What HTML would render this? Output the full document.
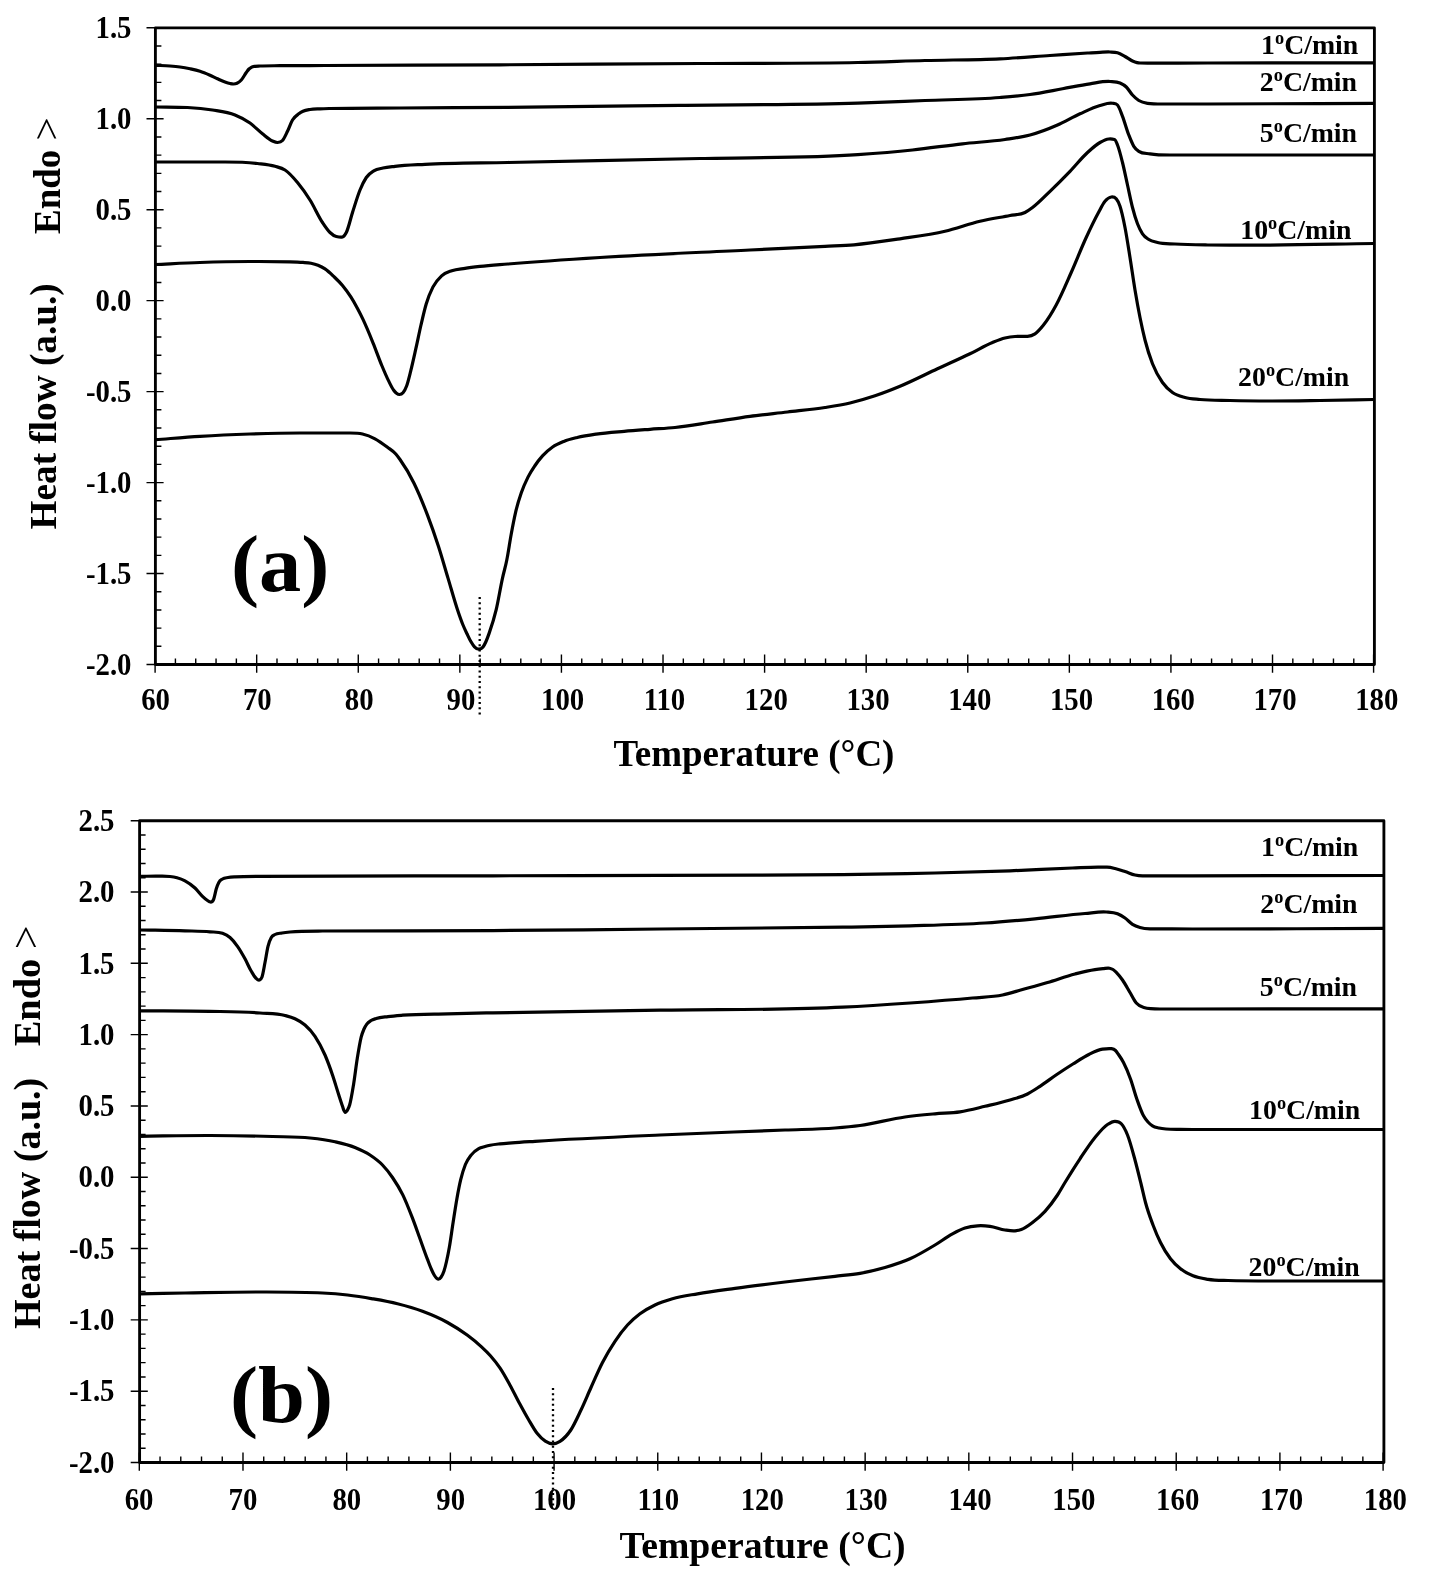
<!DOCTYPE html>
<html><head><meta charset="utf-8"><title>DSC heating curves</title>
<style>
html,body{margin:0;padding:0;background:#fff;}
svg{display:block;will-change:transform;}
text{font-family:"Liberation Serif",serif;font-weight:bold;fill:#000;}
</style></head>
<body>
<svg width="1431" height="1581" viewBox="0 0 1431 1581">
<rect width="1431" height="1581" fill="#fff"/>
<path d="M155.1 654.6V672.8M175.42 658.5V664.5M195.73 658.5V664.5M216.05 658.5V664.5M236.37 658.5V664.5M256.68 654.6V672.8M277 658.5V664.5M297.32 658.5V664.5M317.63 658.5V664.5M337.95 658.5V664.5M358.27 654.6V672.8M378.58 658.5V664.5M398.9 658.5V664.5M419.22 658.5V664.5M439.53 658.5V664.5M459.85 654.6V672.8M480.17 658.5V664.5M500.48 658.5V664.5M520.8 658.5V664.5M541.12 658.5V664.5M561.43 654.6V672.8M581.75 658.5V664.5M602.07 658.5V664.5M622.38 658.5V664.5M642.7 658.5V664.5M663.02 654.6V672.8M683.33 658.5V664.5M703.65 658.5V664.5M723.97 658.5V664.5M744.28 658.5V664.5M764.6 654.6V672.8M784.92 658.5V664.5M805.23 658.5V664.5M825.55 658.5V664.5M845.87 658.5V664.5M866.18 654.6V672.8M886.5 658.5V664.5M906.82 658.5V664.5M927.13 658.5V664.5M947.45 658.5V664.5M967.77 654.6V672.8M988.08 658.5V664.5M1008.4 658.5V664.5M1028.72 658.5V664.5M1049.03 658.5V664.5M1069.35 654.6V672.8M1089.67 658.5V664.5M1109.98 658.5V664.5M1130.3 658.5V664.5M1150.62 658.5V664.5M1170.93 654.6V672.8M1191.25 658.5V664.5M1211.57 658.5V664.5M1231.88 658.5V664.5M1252.2 658.5V664.5M1272.52 654.6V672.8M1292.83 658.5V664.5M1313.15 658.5V664.5M1333.47 658.5V664.5M1353.78 658.5V664.5M1373.6 654.6V672.8M146.5 664.5H163.6M155.4 646.31H161.4M155.4 628.12H161.4M155.4 609.93H161.4M155.4 591.73H161.4M146.5 573.54H163.6M155.4 555.35H161.4M155.4 537.16H161.4M155.4 518.97H161.4M155.4 500.78H161.4M146.5 482.59H163.6M155.4 464.39H161.4M155.4 446.2H161.4M155.4 428.01H161.4M155.4 409.82H161.4M146.5 391.63H163.6M155.4 373.44H161.4M155.4 355.25H161.4M155.4 337.05H161.4M155.4 318.86H161.4M146.5 300.67H163.6M155.4 282.48H161.4M155.4 264.29H161.4M155.4 246.1H161.4M155.4 227.91H161.4M146.5 209.71H163.6M155.4 191.52H161.4M155.4 173.33H161.4M155.4 155.14H161.4M155.4 136.95H161.4M146.5 118.76H163.6M155.4 100.57H161.4M155.4 82.37H161.4M155.4 64.18H161.4M155.4 45.99H161.4M146.5 27.8H163.6" stroke="#000" stroke-width="1.4" fill="none"/>
<rect x="155.4" y="27.8" width="1219" height="636.7" fill="none" stroke="#000" stroke-width="2.85" stroke-linejoin="round"/>
<text transform="translate(131.5 674.7) scale(1 1.06)" text-anchor="end" font-size="28.8">-2.0</text>
<text transform="translate(131.5 583.74) scale(1 1.06)" text-anchor="end" font-size="28.8">-1.5</text>
<text transform="translate(131.5 492.79) scale(1 1.06)" text-anchor="end" font-size="28.8">-1.0</text>
<text transform="translate(131.5 401.83) scale(1 1.06)" text-anchor="end" font-size="28.8">-0.5</text>
<text transform="translate(131.5 310.87) scale(1 1.06)" text-anchor="end" font-size="28.8">0.0</text>
<text transform="translate(131.5 219.91) scale(1 1.06)" text-anchor="end" font-size="28.8">0.5</text>
<text transform="translate(131.5 128.96) scale(1 1.06)" text-anchor="end" font-size="28.8">1.0</text>
<text transform="translate(131.5 38) scale(1 1.06)" text-anchor="end" font-size="28.8">1.5</text>
<text transform="translate(155.6 710) scale(1 1.06)" text-anchor="middle" font-size="28.8">60</text>
<text transform="translate(257.37 710) scale(1 1.06)" text-anchor="middle" font-size="28.8">70</text>
<text transform="translate(359.13 710) scale(1 1.06)" text-anchor="middle" font-size="28.8">80</text>
<text transform="translate(460.9 710) scale(1 1.06)" text-anchor="middle" font-size="28.8">90</text>
<text transform="translate(562.67 710) scale(1 1.06)" text-anchor="middle" font-size="28.8">100</text>
<text transform="translate(664.43 710) scale(1 1.06)" text-anchor="middle" font-size="28.8">110</text>
<text transform="translate(766.2 710) scale(1 1.06)" text-anchor="middle" font-size="28.8">120</text>
<text transform="translate(867.97 710) scale(1 1.06)" text-anchor="middle" font-size="28.8">130</text>
<text transform="translate(969.73 710) scale(1 1.06)" text-anchor="middle" font-size="28.8">140</text>
<text transform="translate(1071.5 710) scale(1 1.06)" text-anchor="middle" font-size="28.8">150</text>
<text transform="translate(1173.27 710) scale(1 1.06)" text-anchor="middle" font-size="28.8">160</text>
<text transform="translate(1275.03 710) scale(1 1.06)" text-anchor="middle" font-size="28.8">170</text>
<text transform="translate(1376.8 710) scale(1 1.06)" text-anchor="middle" font-size="28.8">180</text>
<path d="M139.3 1452.6V1470.8M160.04 1456.5V1462.5M180.78 1456.5V1462.5M201.51 1456.5V1462.5M222.25 1456.5V1462.5M242.99 1452.6V1470.8M263.73 1456.5V1462.5M284.47 1456.5V1462.5M305.21 1456.5V1462.5M325.94 1456.5V1462.5M346.68 1452.6V1470.8M367.42 1456.5V1462.5M388.16 1456.5V1462.5M408.9 1456.5V1462.5M429.64 1456.5V1462.5M450.38 1452.6V1470.8M471.11 1456.5V1462.5M491.85 1456.5V1462.5M512.59 1456.5V1462.5M533.33 1456.5V1462.5M554.07 1452.6V1470.8M574.81 1456.5V1462.5M595.54 1456.5V1462.5M616.28 1456.5V1462.5M637.02 1456.5V1462.5M657.76 1452.6V1470.8M678.5 1456.5V1462.5M699.24 1456.5V1462.5M719.97 1456.5V1462.5M740.71 1456.5V1462.5M761.45 1452.6V1470.8M782.19 1456.5V1462.5M802.93 1456.5V1462.5M823.67 1456.5V1462.5M844.4 1456.5V1462.5M865.14 1452.6V1470.8M885.88 1456.5V1462.5M906.62 1456.5V1462.5M927.36 1456.5V1462.5M948.1 1456.5V1462.5M968.83 1452.6V1470.8M989.57 1456.5V1462.5M1010.31 1456.5V1462.5M1031.05 1456.5V1462.5M1051.79 1456.5V1462.5M1072.53 1452.6V1470.8M1093.26 1456.5V1462.5M1114 1456.5V1462.5M1134.74 1456.5V1462.5M1155.48 1456.5V1462.5M1176.22 1452.6V1470.8M1196.96 1456.5V1462.5M1217.69 1456.5V1462.5M1238.43 1456.5V1462.5M1259.17 1456.5V1462.5M1279.91 1452.6V1470.8M1300.65 1456.5V1462.5M1321.39 1456.5V1462.5M1342.12 1456.5V1462.5M1362.86 1456.5V1462.5M1383.1 1452.6V1470.8M130.7 1462.5H147.8M139.6 1448.24H145.6M139.6 1433.98H145.6M139.6 1419.71H145.6M139.6 1405.45H145.6M130.7 1391.19H147.8M139.6 1376.93H145.6M139.6 1362.66H145.6M139.6 1348.4H145.6M139.6 1334.14H145.6M130.7 1319.88H147.8M139.6 1305.62H145.6M139.6 1291.35H145.6M139.6 1277.09H145.6M139.6 1262.83H145.6M130.7 1248.57H147.8M139.6 1234.3H145.6M139.6 1220.04H145.6M139.6 1205.78H145.6M139.6 1191.52H145.6M130.7 1177.26H147.8M139.6 1162.99H145.6M139.6 1148.73H145.6M139.6 1134.47H145.6M139.6 1120.21H145.6M130.7 1105.94H147.8M139.6 1091.68H145.6M139.6 1077.42H145.6M139.6 1063.16H145.6M139.6 1048.9H145.6M130.7 1034.63H147.8M139.6 1020.37H145.6M139.6 1006.11H145.6M139.6 991.85H145.6M139.6 977.58H145.6M130.7 963.32H147.8M139.6 949.06H145.6M139.6 934.8H145.6M139.6 920.54H145.6M139.6 906.27H145.6M130.7 892.01H147.8M139.6 877.75H145.6M139.6 863.49H145.6M139.6 849.22H145.6M139.6 834.96H145.6M130.7 820.7H147.8" stroke="#000" stroke-width="1.4" fill="none"/>
<rect x="139.6" y="820.7" width="1244.3" height="641.8" fill="none" stroke="#000" stroke-width="2.85" stroke-linejoin="round"/>
<text transform="translate(114.5 1472.7) scale(1 1.06)" text-anchor="end" font-size="28.8">-2.0</text>
<text transform="translate(114.5 1401.39) scale(1 1.06)" text-anchor="end" font-size="28.8">-1.5</text>
<text transform="translate(114.5 1330.08) scale(1 1.06)" text-anchor="end" font-size="28.8">-1.0</text>
<text transform="translate(114.5 1258.77) scale(1 1.06)" text-anchor="end" font-size="28.8">-0.5</text>
<text transform="translate(114.5 1187.46) scale(1 1.06)" text-anchor="end" font-size="28.8">0.0</text>
<text transform="translate(114.5 1116.14) scale(1 1.06)" text-anchor="end" font-size="28.8">0.5</text>
<text transform="translate(114.5 1044.83) scale(1 1.06)" text-anchor="end" font-size="28.8">1.0</text>
<text transform="translate(114.5 973.52) scale(1 1.06)" text-anchor="end" font-size="28.8">1.5</text>
<text transform="translate(114.5 902.21) scale(1 1.06)" text-anchor="end" font-size="28.8">2.0</text>
<text transform="translate(114.5 830.9) scale(1 1.06)" text-anchor="end" font-size="28.8">2.5</text>
<text transform="translate(139.1 1510) scale(1 1.06)" text-anchor="middle" font-size="28.8">60</text>
<text transform="translate(242.96 1510) scale(1 1.06)" text-anchor="middle" font-size="28.8">70</text>
<text transform="translate(346.82 1510) scale(1 1.06)" text-anchor="middle" font-size="28.8">80</text>
<text transform="translate(450.68 1510) scale(1 1.06)" text-anchor="middle" font-size="28.8">90</text>
<text transform="translate(554.53 1510) scale(1 1.06)" text-anchor="middle" font-size="28.8">100</text>
<text transform="translate(658.39 1510) scale(1 1.06)" text-anchor="middle" font-size="28.8">110</text>
<text transform="translate(762.25 1510) scale(1 1.06)" text-anchor="middle" font-size="28.8">120</text>
<text transform="translate(866.11 1510) scale(1 1.06)" text-anchor="middle" font-size="28.8">130</text>
<text transform="translate(969.97 1510) scale(1 1.06)" text-anchor="middle" font-size="28.8">140</text>
<text transform="translate(1073.83 1510) scale(1 1.06)" text-anchor="middle" font-size="28.8">150</text>
<text transform="translate(1177.68 1510) scale(1 1.06)" text-anchor="middle" font-size="28.8">160</text>
<text transform="translate(1281.54 1510) scale(1 1.06)" text-anchor="middle" font-size="28.8">170</text>
<text transform="translate(1385.4 1510) scale(1 1.06)" text-anchor="middle" font-size="28.8">180</text>
<path d="M155.6 65.3C160.4 65.53 165.2 65.62 170 66C173.33 66.26 176.67 66.53 180 67C183.33 67.47 186.67 68.08 190 68.8C193.33 69.52 196.67 70.22 200 71.3C203.33 72.38 206.67 73.84 210 75.3C212.5 76.4 215 77.68 217.5 78.8C220 79.92 222.5 81.12 225 82C226.67 82.58 228.33 83.15 230 83.5C231.17 83.74 232.33 84.03 233.5 84C234.67 83.97 235.83 83.83 237 83.3C238.43 82.65 239.87 81.59 241.3 80C242.97 78.16 244.63 74.78 246.3 72.5C247.2 71.27 248.1 69.9 249 69C249.77 68.24 250.53 67.73 251.3 67.3C252.53 66.61 253.77 66.52 255 66.3C256.67 66 258.33 66.08 260 66C266.67 65.7 273.33 65.78 280 65.7C295 65.52 310 65.57 325 65.5C383.33 65.25 441.67 65.1 500 64.8C566.67 64.46 633.33 63.93 700 63.5C752.6 63.16 805.2 63.5 857.8 62.5C880.2 62.07 902.6 61.09 925 60.5C950 59.84 975 60.02 1000 58.8C1016.67 57.99 1033.33 56.61 1050 55.5C1062.5 54.67 1075 53.73 1087.5 53C1091.67 52.76 1095.83 52.47 1100 52.3C1103.33 52.16 1106.67 51.84 1110 52C1112.5 52.12 1115 52.05 1117.5 52.8C1120 53.55 1122.5 55.13 1125 56.5C1127.5 57.87 1130 59.88 1132.5 61C1134 61.67 1135.5 62.27 1137 62.6C1138 62.82 1139 62.97 1140 63C1143.33 63.1 1146.67 63.08 1150 63.1C1169.27 63.2 1188.53 63.03 1207.8 63C1263.2 62.91 1318.6 62.87 1374 62.8" fill="none" stroke="#000" stroke-width="3.2" stroke-linejoin="round"/>
<path d="M155.6 107C166.23 107.17 176.87 107 187.5 107.5C195.83 107.89 204.17 108.63 212.5 110C220 111.23 227.5 111.93 235 115C240 117.04 245 119.43 250 123C254.17 125.97 258.33 130.53 262.5 133.8C265.83 136.41 269.17 139.53 272.5 141C274.17 141.73 275.83 142.58 277.5 142.5C279.17 142.42 280.83 142.37 282.5 140.5C284.17 138.63 285.83 134.72 287.5 131.3C289.17 127.88 290.83 122.83 292.5 120C294.6 116.44 296.7 115.38 298.8 113.8C300.2 112.75 301.6 111.96 303 111.3C305.33 110.21 307.67 109.92 310 109.5C313.33 108.9 316.67 108.97 320 108.8C323.33 108.63 326.67 108.57 330 108.5C353.33 108 376.67 108.16 400 108C435.93 107.75 471.87 107.6 507.8 107.3C565.2 106.81 622.6 105.99 680 105.3C739.27 104.59 798.53 104.97 857.8 103.1C880.2 102.4 902.6 101.38 925 100.5C950 99.52 975 99.57 1000 97.5C1010 96.67 1020 95.86 1030 94.5C1040.83 93.02 1051.67 90.74 1062.5 88.8C1071.67 87.16 1080.83 85.11 1090 83.8C1096.67 82.85 1103.33 81.09 1110 81.5C1113.33 81.71 1116.67 81.51 1120 83C1122.1 83.94 1124.2 84.97 1126.3 87C1128.37 88.99 1130.43 92.76 1132.5 95C1134.6 97.28 1136.7 99.15 1138.8 100.5C1141.7 102.36 1144.6 102.89 1147.5 103.3C1152.5 104 1157.5 104 1162.5 104C1177.6 104 1192.7 104 1207.8 104C1263.2 104 1318.6 103.53 1374 103.3" fill="none" stroke="#000" stroke-width="3.2" stroke-linejoin="round"/>
<path d="M155.6 162C178.73 162 201.87 162 225 162C235.83 162 246.67 162.2 257.5 163.5C263.33 164.2 269.17 164.59 275 166.3C278.33 167.28 281.67 167.83 285 170C289.17 172.71 293.33 177.5 297.5 182.5C301.67 187.5 305.83 193.33 310 200C314.17 206.67 318.33 216.22 322.5 222.5C325 226.27 327.5 230.12 330 232.5C332.1 234.5 334.2 235.99 336.3 236.5C338.37 237 340.43 237.5 342.5 237C343.77 236.69 345.03 234.98 346.3 232.5C348.37 228.45 350.43 218.96 352.5 212.5C355 204.69 357.5 196.12 360 190C362.1 184.86 364.2 180.62 366.3 177.5C368.8 173.78 371.3 172.37 373.8 170.8C376.87 168.87 379.93 168.72 383 168C387 167.06 391 166.78 395 166.3C405 165.1 415 164.85 425 164.3C452.6 162.79 480.2 163.09 507.8 162.5C571.87 161.13 635.93 159.97 700 158.5C752.6 157.29 805.2 158.22 857.8 154.6C876.03 153.35 894.27 151.91 912.5 150C929.17 148.25 945.83 145.66 962.5 143.8C976.67 142.22 990.83 141.64 1005 139.5C1013.33 138.24 1021.67 137.23 1030 135C1039.17 132.55 1048.33 129.01 1057.5 125C1065 121.72 1072.5 117.2 1080 113.8C1086.67 110.77 1093.33 107.29 1100 105.5C1104.17 104.38 1108.33 102.5 1112.5 103.3C1114.17 103.62 1115.83 103.3 1117.5 105C1119.17 106.7 1120.83 112.01 1122.5 116.3C1124.6 121.7 1126.7 129.6 1128.8 135C1130.47 139.29 1132.13 143.58 1133.8 146.3C1135.47 149.02 1137.13 150.18 1138.8 151.3C1142.53 153.8 1146.27 153.19 1150 153.8C1156.67 154.9 1163.33 155 1170 155C1182.6 155 1195.2 155 1207.8 155C1263.2 155 1318.6 155 1374 155" fill="none" stroke="#000" stroke-width="3.2" stroke-linejoin="round"/>
<path d="M155.6 264.5C170.4 263.83 185.2 262.99 200 262.5C216.67 261.95 233.33 261.58 250 261.5C263.33 261.44 276.67 261.5 290 261.8C294.33 261.9 298.67 262.02 303 262.4C305.67 262.63 308.33 262.75 311 263.3C313.33 263.78 315.67 264.37 318 265.3C320.33 266.23 322.67 267.34 325 268.9C328 270.91 331 273.84 334 276.7C336.83 279.4 339.67 282.08 342.5 285.5C345.33 288.92 348.17 292.72 351 297.2C353.17 300.63 355.33 304.45 357.5 308.5C359.33 311.93 361.17 315.53 363 319.4C366.4 326.57 369.8 334.89 373.2 343.3C376.07 350.39 378.93 358.61 381.8 365.5C384.07 370.95 386.33 376.31 388.6 380.9C390.3 384.34 392 388.01 393.7 390.3C394.63 391.56 395.57 392.6 396.5 393.3C397.5 394.05 398.5 394.51 399.5 394.5C400.67 394.49 401.83 394.17 403 392.8C404.2 391.39 405.4 389.25 406.6 386C408 382.21 409.4 376.17 410.8 370.6C412.5 363.84 414.2 356 415.9 348.4C417.63 340.65 419.37 331.96 421.1 324.5C422.8 317.18 424.5 309.74 426.2 304C428.47 296.35 430.73 291.37 433 286.9C435.87 281.24 438.73 278.46 441.6 275.8C445 272.64 448.4 271.93 451.8 270.7C456.2 269.11 460.6 268.99 465 268.3C470 267.52 475 266.96 480 266.4C489.27 265.36 498.53 264.77 507.8 264C538.53 261.46 569.27 259.43 600 257.5C650 254.37 700 252.48 750 250C775 248.76 800 247.58 825 246.3C834.67 245.81 844.33 245.59 854 244.8C869.33 243.54 884.67 241.08 900 238.8C915 236.57 930 234.8 945 231.3C956.67 228.57 968.33 224.05 980 221.3C990 218.94 1000 217.48 1010 215.5C1015 214.51 1020 215.06 1025 212.5C1027.5 211.22 1030 209.36 1032.5 207.5C1038.33 203.16 1044.17 196.9 1050 191.3C1056.67 184.9 1063.33 178.23 1070 171.3C1075.83 165.24 1081.67 157.83 1087.5 152.5C1091.67 148.69 1095.83 144.85 1100 142.5C1102.93 140.85 1105.87 139.3 1108.8 139C1110.7 138.8 1112.6 139 1114.5 139.5C1115.5 139.76 1116.5 142.54 1117.5 145C1119.17 149.1 1120.83 155.83 1122.5 162.5C1124.17 169.17 1125.83 177.5 1127.5 185C1129.17 192.5 1130.83 201.03 1132.5 207.5C1134.17 213.97 1135.83 219.42 1137.5 223.8C1139.17 228.18 1140.83 231.27 1142.5 233.8C1144.6 236.98 1146.7 238.09 1148.8 239.5C1151.7 241.44 1154.6 241.75 1157.5 242.5C1163.33 244 1169.17 243.61 1175 244C1185.93 244.73 1196.87 244.84 1207.8 245C1221.87 245.2 1235.93 245.2 1250 245.2C1291.33 245.2 1332.67 244.07 1374 243.5" fill="none" stroke="#000" stroke-width="3.2" stroke-linejoin="round"/>
<path d="M155.6 439.7C170.4 438.57 185.2 437.22 200 436.3C216.67 435.26 233.33 434.55 250 434C266.67 433.45 283.33 433 300 433C316.67 433 333.33 433 350 433C354.17 433 358.33 433.03 362.5 434C366.67 434.97 370.83 436.58 375 438.8C379.17 441.02 383.33 444.15 387.5 447.3C390.27 449.39 393.03 450.84 395.8 454C397.2 455.6 398.6 457.54 400 459.5C404.67 466.02 409.33 473.7 414 483.2C418.47 492.3 422.93 503.16 427.4 514.9C431.1 524.63 434.8 535.01 438.5 546.5C441.67 556.33 444.83 567.57 448 578.1C451.17 588.63 454.33 600.26 457.5 609.7C459.33 615.17 461.17 620.52 463 625C464.33 628.26 465.67 631 467 633.8C468.33 636.6 469.67 639.54 471 641.8C472.17 643.78 473.33 645.59 474.5 646.8C475.93 648.29 477.37 649.18 478.8 649.2C480.2 649.22 481.6 648.8 483 647C484 645.71 485 643.72 486 641.5C487.03 639.21 488.07 636.33 489.1 633.4C491.47 626.69 493.83 619.7 496.2 609.7C498.3 600.82 500.4 587.63 502.5 578.1C503.93 571.6 505.37 567.21 506.8 560C508.27 552.63 509.73 542.16 511.2 534.2C512.7 526.06 514.2 518.21 515.7 511.8C517.57 503.83 519.43 498.24 521.3 492.8C523.53 486.29 525.77 481.57 528 477.1C530.23 472.63 532.47 469.33 534.7 466C537.3 462.13 539.9 458.8 542.5 455.9C545.87 452.15 549.23 449.36 552.6 447C556.33 444.39 560.07 442.91 563.8 441.4C568.27 439.59 572.73 438.59 577.2 437.5C583.53 435.95 589.87 435.03 596.2 434.1C605.53 432.73 614.87 432.12 624.2 431.3C632.8 430.54 641.4 429.94 650 429.3C658.33 428.68 666.67 428.35 675 427.5C687.5 426.23 700 423.87 712.5 422C725 420.13 737.5 417.97 750 416.3C762.5 414.63 775 413.47 787.5 412C800 410.53 812.5 409.45 825 407.5C833.33 406.2 841.67 404.95 850 403C858.33 401.05 866.67 398.58 875 395.8C883.33 393.02 891.67 389.76 900 386.3C912.5 381.12 925 374.6 937.5 368.8C948.33 363.77 959.17 359.06 970 353.8C977.5 350.16 985 345.58 992.5 342.5C996.67 340.79 1000.83 339.01 1005 338C1008.33 337.19 1011.67 336.66 1015 336.5C1019.17 336.3 1023.33 336.5 1027.5 336.3C1030 336.18 1032.5 335.46 1035 333.8C1037.83 331.92 1040.67 328.55 1043.5 325C1047.73 319.7 1051.97 312.82 1056.2 305C1061.2 295.77 1066.2 283.75 1071.2 272.5C1076.2 261.25 1081.2 248.34 1086.2 237.5C1090.3 228.61 1094.4 220 1098.5 212.5C1100.67 208.53 1102.83 203.89 1105 201.3C1107.1 198.79 1109.2 197.21 1111.3 197C1112.97 196.83 1114.63 197 1116.3 198.8C1117.53 200.13 1118.77 202.64 1120 206.3C1121.67 211.25 1123.33 218.97 1125 227.5C1126.67 236.03 1128.33 247.08 1130 257.5C1131.67 267.92 1133.33 280 1135 290C1136.67 300 1138.33 309.17 1140 317.5C1141.67 325.83 1143.33 333.38 1145 340C1147.5 349.92 1150 357.26 1152.5 363.8C1155.83 372.52 1159.17 377.72 1162.5 382.5C1165.83 387.28 1169.17 390.06 1172.5 392.5C1176.67 395.56 1180.83 396.34 1185 397.5C1190 398.89 1195 399 1200 399.5C1210 400.5 1220 400.26 1230 400.5C1243.33 400.83 1256.67 400.97 1270 401C1286.67 401.04 1303.33 400.73 1320 400.5C1338 400.25 1356 399.83 1374 399.5" fill="none" stroke="#000" stroke-width="3.2" stroke-linejoin="round"/>
<path d="M139.8 876.3C146.53 876.27 153.27 876.1 160 876.2C163.33 876.25 166.67 876.2 170 876.5C172.33 876.71 174.67 877.06 177 877.7C179.67 878.43 182.33 879.37 185 880.8C188.33 882.58 191.67 884.86 195 888C197.5 890.35 200 893.93 202.5 896.3C204.17 897.88 205.83 899.39 207.5 900.5C208.17 900.95 208.83 901.45 209.5 901.7C210.1 901.92 210.7 902.2 211.3 902C211.77 901.85 212.23 901.67 212.7 901C213.07 900.47 213.43 899.76 213.8 898.8C214.63 896.62 215.47 891.52 216.3 888.8C217.13 886.08 217.97 884.07 218.8 882.5C220.03 880.17 221.27 879.83 222.5 879C224.33 877.76 226.17 877.86 228 877.5C230.33 877.04 232.67 876.94 235 876.8C243.33 876.3 251.67 876.35 260 876.3C337.6 875.8 415.2 876 492.8 875.8C548.53 875.65 604.27 875.47 660 875.3C720.93 875.11 781.87 875.3 842.8 874.7C873.53 874.4 904.27 873.75 935 873C960 872.39 985 871.74 1010 870.8C1030.83 870.01 1051.67 868.79 1072.5 868C1081 867.68 1089.5 867.11 1098 867.1C1101 867.1 1104 867.1 1107 867.2C1109.67 867.29 1112.33 867.9 1115 868.5C1118.33 869.25 1121.67 870.42 1125 871.5C1128.33 872.58 1131.67 874.3 1135 875C1137.5 875.53 1140 875.8 1142.5 875.8C1159.27 875.8 1176.03 875.8 1192.8 875.8C1256.53 875.8 1320.27 875.6 1384 875.5" fill="none" stroke="#000" stroke-width="3.2" stroke-linejoin="round"/>
<path d="M139.8 930C154.87 930.27 169.93 930.32 185 930.8C193.33 931.07 201.67 931.02 210 931.8C214.17 932.19 218.33 931.8 222.5 933.3C225 934.2 227.5 935.33 230 937.5C232.5 939.67 235 942.75 237.5 946.3C240 949.85 242.5 954.2 245 958.8C247.1 962.66 249.2 967.74 251.3 971.3C252.8 973.84 254.3 976.54 255.8 978C256.97 979.13 258.13 980.44 259.3 980C260.2 979.66 261.1 979.59 262 977C263 974.13 264 967.62 265 962.5C266 957.38 267 950.4 268 946.3C269.1 941.79 270.2 939.47 271.3 937.5C272.53 935.29 273.77 935.25 275 934.5C277.33 933.09 279.67 933.4 282 933C284.67 932.54 287.33 932.25 290 932C300.83 931 311.67 931.08 322.5 931C379.27 930.6 436.03 930.94 492.8 930.6C548.53 930.27 604.27 929.54 660 929C720.93 928.41 781.87 928.29 842.8 927.2C865.2 926.8 887.6 926.44 910 925.8C935 925.08 960 924.63 985 923C1001.67 921.91 1018.33 920.38 1035 918.8C1051.67 917.22 1068.33 914.85 1085 913.5C1092.1 912.92 1099.2 911.42 1106.3 912C1110.03 912.3 1113.77 912.31 1117.5 913.8C1120 914.8 1122.5 916.25 1125 918C1127.5 919.75 1130 922.72 1132.5 924.3C1135 925.88 1137.5 926.75 1140 927.5C1143.33 928.5 1146.67 928.75 1150 928.8C1164.27 929 1178.53 928.96 1192.8 929C1256.53 929.2 1320.27 928.53 1384 928.3" fill="none" stroke="#000" stroke-width="3.2" stroke-linejoin="round"/>
<path d="M139.8 1010.8C163.2 1010.97 186.6 1010.8 210 1011.3C226.67 1011.66 243.33 1011.7 260 1013C268.33 1013.65 276.67 1013.3 285 1015.5C288.33 1016.38 291.67 1017.22 295 1018.8C298.33 1020.38 301.67 1022.08 305 1025C308.33 1027.92 311.67 1031.3 315 1036.3C318.33 1041.3 321.67 1047.25 325 1055C327.5 1060.81 330 1067.64 332.5 1075C334.6 1081.18 336.7 1088.49 338.8 1095C340.03 1098.82 341.27 1102.7 342.5 1106.3C343 1107.76 343.5 1109.57 344 1110.6C344.4 1111.42 344.8 1112.08 345.2 1112.3C345.9 1112.69 346.6 1111.4 347.3 1110.3C348.1 1109.04 348.9 1107.55 349.7 1104.8C350.97 1100.45 352.23 1092.65 353.5 1084.9C354.77 1077.15 356.03 1066.22 357.3 1058.3C358.57 1050.38 359.83 1042.5 361.1 1037.4C362.07 1033.51 363.03 1031.24 364 1029C364.93 1026.84 365.87 1025.4 366.8 1024.1C368.2 1022.15 369.6 1021.4 371 1020.5C372.73 1019.38 374.47 1019.05 376.2 1018.5C380.13 1017.26 384.07 1017.12 388 1016.6C392.93 1015.95 397.87 1015.59 402.8 1015.2C417.7 1014.03 432.6 1014.2 447.5 1013.8C462.6 1013.4 477.7 1013.11 492.8 1012.8C548.53 1011.65 604.27 1011.09 660 1010.2C720.93 1009.23 781.87 1010.2 842.8 1007.2C865.2 1006.1 887.6 1004.6 910 1003C930.83 1001.51 951.67 999.95 972.5 998C982.5 997.06 992.5 997.05 1002.5 995C1009.17 993.63 1015.83 991.35 1022.5 989.5C1030.83 987.19 1039.17 984.95 1047.5 982.5C1056.67 979.81 1065.83 976.36 1075 974C1081.67 972.28 1088.33 970.55 1095 969.6C1097.67 969.22 1100.33 968.95 1103 968.7C1105.17 968.5 1107.33 967.74 1109.5 968.2C1110.67 968.45 1111.83 968.77 1113 969.5C1114.17 970.23 1115.33 971.42 1116.5 972.6C1118.5 974.63 1120.5 977.15 1122.5 980C1125 983.56 1127.5 988.33 1130 992.5C1132.1 996 1134.2 1000.52 1136.3 1003C1138.8 1005.95 1141.3 1006.81 1143.8 1007.5C1149.2 1009 1154.6 1009 1160 1009C1170.93 1009 1181.87 1009 1192.8 1009C1256.53 1009 1320.27 1008.87 1384 1008.8" fill="none" stroke="#000" stroke-width="3.2" stroke-linejoin="round"/>
<path d="M139.8 1136.3C163.2 1136.03 186.6 1135.43 210 1135.5C230.83 1135.56 251.67 1135.85 272.5 1136.5C285 1136.89 297.5 1136.66 310 1138C318.33 1138.89 326.67 1139.92 335 1141.8C341.67 1143.31 348.33 1144.78 355 1147.5C360 1149.54 365 1151.68 370 1155C374.17 1157.77 378.33 1160.62 382.5 1165C385.83 1168.5 389.17 1172.61 392.5 1177.5C395.93 1182.53 399.37 1187.83 402.8 1194.9C405.97 1201.42 409.13 1209.51 412.3 1217.7C414.83 1224.25 417.37 1231.55 419.9 1238.5C422.43 1245.45 424.97 1252.81 427.5 1259.4C428.83 1262.87 430.17 1266.53 431.5 1269.5C432.5 1271.72 433.5 1273.89 434.5 1275.5C435.17 1276.57 435.83 1277.57 436.5 1278.2C437.07 1278.73 437.63 1279.15 438.2 1279.2C439.13 1279.29 440.07 1278.48 441 1277.2C442 1275.83 443 1274.01 444 1271C444.83 1268.49 445.67 1265.14 446.5 1261.5C447.43 1257.43 448.37 1252.79 449.3 1247.5C450.57 1240.32 451.83 1230.63 453.1 1222.5C454.37 1214.37 455.63 1205.83 456.9 1198.7C458.17 1191.57 459.43 1185.03 460.7 1179.7C462.27 1173.1 463.83 1168.44 465.4 1164.5C467.3 1159.72 469.2 1157.59 471.1 1155.1C473.63 1151.78 476.17 1150.04 478.7 1148.6C480.8 1147.4 482.9 1147.11 485 1146.5C486.7 1146.01 488.4 1145.57 490.1 1145.2C493.4 1144.49 496.7 1144.18 500 1143.8C504 1143.34 508 1143.11 512 1142.8C519.67 1142.21 527.33 1141.78 535 1141.3C576.67 1138.68 618.33 1136.88 660 1135C701.67 1133.12 743.33 1131.67 785 1130C801.67 1129.33 818.33 1129.33 835 1128C843.33 1127.33 851.67 1126.6 860 1125.5C875 1123.52 890 1119.09 905 1117C915 1115.6 925 1114.72 935 1113.8C943.33 1113.03 951.67 1113.05 960 1111.8C968.33 1110.55 976.67 1108.27 985 1106.3C993.33 1104.33 1001.67 1102.55 1010 1100C1015.83 1098.22 1021.67 1096.93 1027.5 1094C1031.67 1091.91 1035.83 1089.02 1040 1086.3C1045.47 1082.73 1050.93 1078.51 1056.4 1074.8C1061.9 1071.07 1067.4 1067.44 1072.9 1064C1078.37 1060.58 1083.83 1056.8 1089.3 1054.2C1093.7 1052.1 1098.1 1049.93 1102.5 1049.2C1105.5 1048.7 1108.5 1048.2 1111.5 1048.7C1112.83 1048.92 1114.17 1049.23 1115.5 1050.5C1116.5 1051.45 1117.5 1053.07 1118.5 1054.5C1120.17 1056.89 1121.83 1059.31 1123.5 1062.5C1125.83 1066.97 1128.17 1072.54 1130.5 1079C1132.67 1085 1134.83 1093.37 1137 1099.5C1139.17 1105.63 1141.33 1111.81 1143.5 1115.8C1145 1118.56 1146.5 1120.33 1148 1122C1149.5 1123.67 1151 1124.84 1152.5 1125.8C1154.67 1127.18 1156.83 1127.47 1159 1128C1161.33 1128.57 1163.67 1128.8 1166 1129C1170.67 1129.4 1175.33 1129.32 1180 1129.4C1184.27 1129.48 1188.53 1129.5 1192.8 1129.5C1256.53 1129.5 1320.27 1129.5 1384 1129.5" fill="none" stroke="#000" stroke-width="3.2" stroke-linejoin="round"/>
<path d="M139.8 1293.8C154.87 1293.53 169.93 1293.24 185 1293C210 1292.6 235 1291.93 260 1292C280.83 1292.06 301.67 1292 322.5 1293C330.83 1293.4 339.17 1294.03 347.5 1295C355.83 1295.97 364.17 1297.33 372.5 1298.8C380.83 1300.27 389.17 1301.72 397.5 1303.8C405.83 1305.88 414.17 1308.18 422.5 1311.3C430.83 1314.42 439.17 1317.88 447.5 1322.5C454.17 1326.2 460.83 1330.32 467.5 1335.3C472.17 1338.78 476.83 1342.46 481.5 1346.8C484.47 1349.56 487.43 1352.34 490.4 1355.7C493.63 1359.36 496.87 1363.27 500.1 1368.1C503.37 1372.98 506.63 1378.97 509.9 1384.9C513.13 1390.77 516.37 1397.5 519.6 1403.5C522.57 1409 525.53 1414.46 528.5 1419.5C531.43 1424.49 534.37 1429.9 537.3 1433.6C539.97 1436.96 542.63 1439.49 545.3 1441.2C547.7 1442.74 550.1 1443.75 552.5 1443.8C555 1443.85 557.5 1442.86 560 1441.3C563.6 1439.05 567.2 1435.46 570.8 1430C574.2 1424.84 577.6 1417.16 581 1410C584.33 1402.98 587.67 1394.88 591 1387.5C594.83 1379.01 598.67 1369.96 602.5 1362.5C606.67 1354.4 610.83 1347.55 615 1341.3C619.17 1335.05 623.33 1329.58 627.5 1325C631.67 1320.42 635.83 1316.95 640 1313.8C645 1310.02 650 1307.4 655 1305C660.83 1302.2 666.67 1300.5 672.5 1298.8C680.83 1296.38 689.17 1295.29 697.5 1293.8C710 1291.57 722.5 1290.02 735 1288.3C751.67 1286 768.33 1284 785 1282C801.67 1280 818.33 1278.27 835 1276.3C843.33 1275.32 851.67 1274.77 860 1273.3C868.33 1271.83 876.67 1269.92 885 1267.5C893.33 1265.08 901.67 1262.55 910 1258.8C918.33 1255.05 926.67 1250.03 935 1245C940.83 1241.48 946.67 1236.93 952.5 1233.8C956.67 1231.56 960.83 1229.33 965 1228C969.17 1226.67 973.33 1226.08 977.5 1225.8C981.67 1225.52 985.83 1225.8 990 1226.3C995 1226.9 1000 1229.27 1005 1230C1008.33 1230.49 1011.67 1231.12 1015 1230.8C1017.1 1230.6 1019.2 1230.25 1021.3 1229.5C1025.03 1228.17 1028.77 1225.31 1032.5 1222.5C1036.67 1219.36 1040.83 1215.88 1045 1211.3C1049.17 1206.72 1053.33 1201.38 1057.5 1195C1060 1191.17 1062.5 1186.59 1065 1182.5C1070 1174.31 1075 1166.3 1080 1158.8C1085 1151.3 1090 1143.56 1095 1137.5C1099.17 1132.45 1103.33 1127.24 1107.5 1124.5C1110 1122.86 1112.5 1121.25 1115 1121.3C1117.1 1121.34 1119.2 1121.47 1121.3 1123.8C1123.37 1126.09 1125.43 1129.84 1127.5 1135C1130 1141.24 1132.5 1150.8 1135 1160C1137.1 1167.72 1139.2 1176.42 1141.3 1185C1142.7 1190.72 1144.1 1197.25 1145.5 1202.5C1148 1211.87 1150.5 1218.33 1153 1225C1155.5 1231.67 1158 1237.42 1160.5 1242.5C1163.83 1249.27 1167.17 1254.42 1170.5 1258.8C1173.83 1263.18 1177.17 1266.12 1180.5 1268.8C1184.67 1272.15 1188.83 1274.09 1193 1275.8C1198 1277.86 1203 1278.5 1208 1279.3C1214.67 1280.36 1221.33 1280.28 1228 1280.5C1243 1281 1258 1281 1273 1281C1310 1281 1347 1281 1384 1281" fill="none" stroke="#000" stroke-width="3.2" stroke-linejoin="round"/>
<path d="M479.7 596.9V714.5" stroke="#000" stroke-width="2.3" stroke-dasharray="2.1 3.15" fill="none"/>
<path d="M553 1388V1508.5" stroke="#000" stroke-width="2.3" stroke-dasharray="2.1 3.15" fill="none"/>
<text x="1261.1" y="53.5" font-size="27.8">1<tspan font-size="18.35" dy="-10">o</tspan><tspan dy="10">C/min</tspan></text>
<text x="1259.8" y="91.3" font-size="27.8">2<tspan font-size="18.35" dy="-10">o</tspan><tspan dy="10">C/min</tspan></text>
<text x="1259.8" y="142" font-size="27.8">5<tspan font-size="18.35" dy="-10">o</tspan><tspan dy="10">C/min</tspan></text>
<text x="1240.3" y="238.8" font-size="27.8">10<tspan font-size="18.35" dy="-10">o</tspan><tspan dy="10">C/min</tspan></text>
<text x="1238.1" y="385.5" font-size="27.8">20<tspan font-size="18.35" dy="-10">o</tspan><tspan dy="10">C/min</tspan></text>
<text x="1261.1" y="856.3" font-size="27.8">1<tspan font-size="18.35" dy="-10">o</tspan><tspan dy="10">C/min</tspan></text>
<text x="1260.3" y="912.5" font-size="27.8">2<tspan font-size="18.35" dy="-10">o</tspan><tspan dy="10">C/min</tspan></text>
<text x="1259.8" y="995.5" font-size="27.8">5<tspan font-size="18.35" dy="-10">o</tspan><tspan dy="10">C/min</tspan></text>
<text x="1249.1" y="1119.3" font-size="27.8">10<tspan font-size="18.35" dy="-10">o</tspan><tspan dy="10">C/min</tspan></text>
<text x="1248.6" y="1275.8" font-size="27.8">20<tspan font-size="18.35" dy="-10">o</tspan><tspan dy="10">C/min</tspan></text>
<text transform="translate(231 590.5) scale(1.055 1)" font-size="80">(a)</text>
<text transform="translate(230 1421.5) scale(1.055 1)" font-size="80">(b)</text>
<text x="613.5" y="765.7" font-size="37">Temperature (°C)</text>
<text x="619.5" y="1557.5" font-size="37.7">Temperature (°C)</text>
<text transform="translate(55.5 529.5) rotate(-90)" font-size="37.25">Heat flow (a.u.)</text>
<text transform="translate(60.2 234) rotate(-90)" font-size="37">Endo <tspan font-weight="normal" font-size="41">&gt;</tspan></text>
<text transform="translate(39.7 1329) rotate(-90)" font-size="38">Heat flow (a.u.)</text>
<text transform="translate(39.7 1046.3) rotate(-90)" font-size="38.4">Endo <tspan font-weight="normal" font-size="42">&gt;</tspan></text>
</svg>
</body></html>
